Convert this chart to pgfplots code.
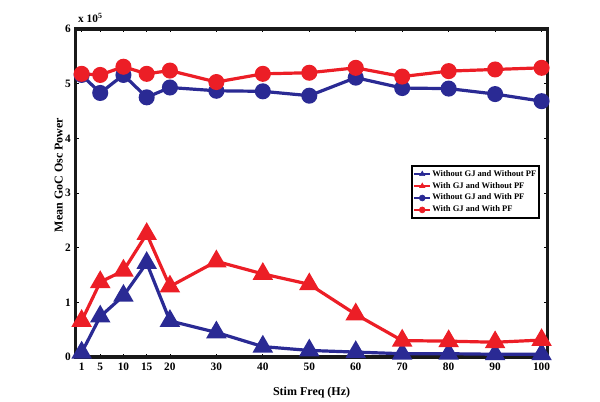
\documentclass[border=0pt]{standalone}
\usepackage{pgfplots}
\pgfplotsset{compat=1.18}
\usepackage{fontspec}
\setmainfont{Liberation Serif}
\definecolor{cblue}{RGB}{42,42,148}
\definecolor{cred}{RGB}{236,30,38}
\begin{document}
\begin{tikzpicture}[x=1pt,y=1pt]
\useasboundingbox (-57.75pt,-33pt) rectangle (392.25pt,267.75pt);
\begin{axis}[
  at={(0,0)}, anchor=origin,
  scale only axis, width=354pt, height=246pt,
  xmin=-0.3, xmax=101.3, ymin=0, ymax=6,
  xtick={1,5,10,15,20,30,40,50,60,70,80,90,100},
  ytick={0,1,2,3,4,5,6},
  axis line style={line width=2.4pt, black!90},
  tick style={black, line width=0.6pt},
  major tick length=2.5pt,
  tick align=inside,
  /pgf/number format/assume math mode=true,
  tick label style={font=\fontsize{8.5}{9}\selectfont\bfseries},
  xticklabel style={yshift=-1pt},
  xlabel={Stim Freq (Hz)},
  ylabel={Mean GoC Osc Power},
  label style={font=\fontsize{9}{10}\selectfont\bfseries},
  xlabel style={at={(axis description cs:0.5,-0.11)}, anchor=center},
  ylabel style={at={(axis description cs:-0.036,0.555)}, anchor=center},
  clip=false,
  legend style={at={(axis description cs:0.984,0.585)}, anchor=north east,
    draw=black, line width=1.6pt, font=\fontsize{6.4}{7}\selectfont\bfseries,
    inner xsep=1pt, inner ysep=1pt, row sep=-1pt,
    nodes={inner xsep=1pt}},
  legend cell align=left,
  legend image code/.code={%
    \draw[#1, mark=none, line width=1.1pt] (0pt,0pt) -- (12pt,0pt);
    \path[#1, mark size=2.2pt, line width=0.5pt] plot coordinates {(6pt,0pt)};
  },
]
\addplot[cblue, line width=2.4pt, mark=triangle*, mark size=6.5pt, mark options={solid}] coordinates {
(1,0.08) (5,0.74) (10,1.12) (15,1.72) (20,0.66) (30,0.45) (40,0.19) (50,0.12) (60,0.09) (70,0.06) (80,0.06) (90,0.05) (100,0.05)};
\addlegendentry{Without GJ and Without PF}
\addplot[cred, line width=2.4pt, mark=triangle*, mark size=6.5pt] coordinates {
(1,0.66) (5,1.37) (10,1.58) (15,2.25) (20,1.29) (30,1.75) (40,1.52) (50,1.33) (60,0.78) (70,0.30) (80,0.29) (90,0.27) (100,0.31)};
\addlegendentry{With GJ and Without PF}
\addplot[cblue, line width=2.4pt, mark=*, mark size=4.8pt] coordinates {
(1,5.16) (5,4.83) (10,5.16) (15,4.75) (20,4.93) (30,4.87) (40,4.86) (50,4.78) (60,5.11) (70,4.92) (80,4.91) (90,4.81) (100,4.68)};
\addlegendentry{Without GJ and With PF}
\addplot[cred, line width=2.4pt, mark=*, mark size=4.8pt] coordinates {
(1,5.18) (5,5.16) (10,5.31) (15,5.18) (20,5.24) (30,5.03) (40,5.18) (50,5.20) (60,5.29) (70,5.13) (80,5.23) (90,5.26) (100,5.29)};
\addlegendentry{With GJ and With PF}
\node[anchor=south west, font=\fontsize{8.5}{9}\selectfont\bfseries, inner sep=0pt] at (rel axis cs:0.005,1.02) {x 10\textsuperscript{5}};
\end{axis}
\end{tikzpicture}
\end{document}
